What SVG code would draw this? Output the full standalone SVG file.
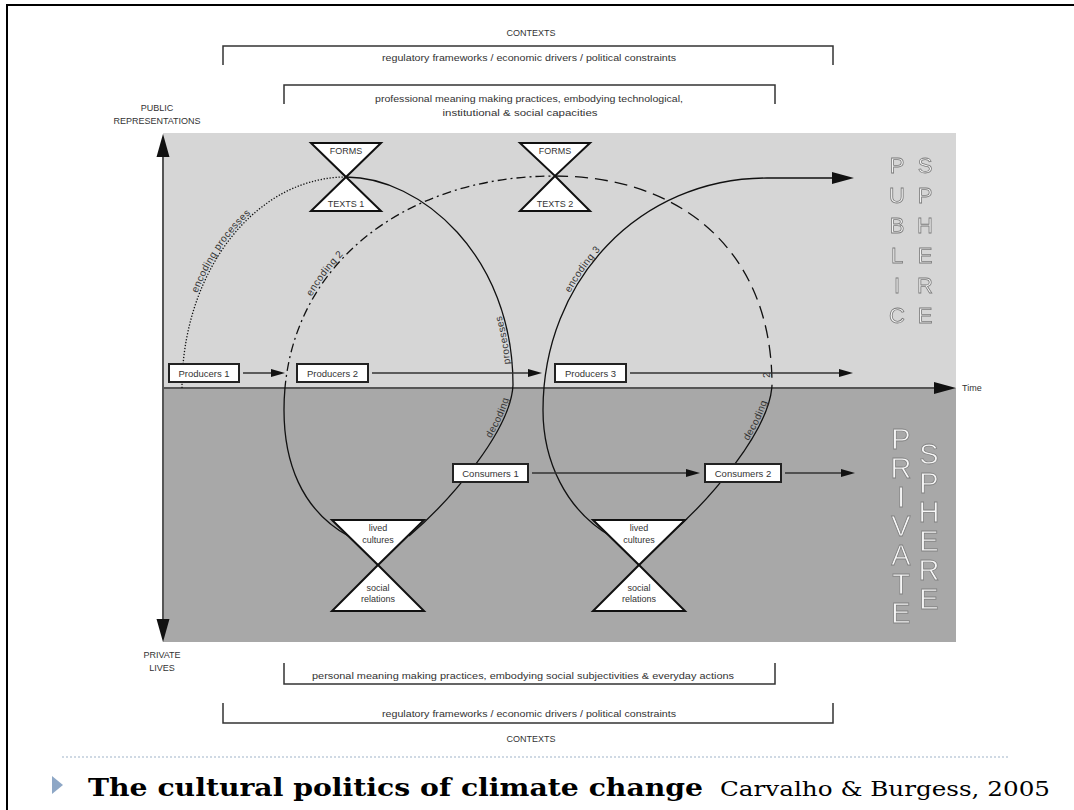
<svg xmlns="http://www.w3.org/2000/svg" width="1074" height="810" viewBox="0 0 1074 810">
<style>
.t{font-family:"Liberation Sans",Arial,sans-serif;font-size:9px;fill:#333}
.c{text-anchor:middle}
.lbl{font-family:"Liberation Sans",Arial,sans-serif;font-size:10px;fill:#333;letter-spacing:0.4px}
.box{fill:#fff;stroke:#222;stroke-width:2}
.hg{fill:#fff;stroke:#111;stroke-width:2}
.cur{fill:none;stroke:#111;stroke-width:1.3}
.arr{fill:none;stroke:#333;stroke-width:1.5}
.br{fill:none;stroke:#333;stroke-width:1.5}
.pub{font-family:"Liberation Sans",Arial,sans-serif;font-size:22px;fill:#f3f3f3;stroke:#7a7a7a;stroke-width:0.8;text-anchor:middle}
.pri{font-family:"Liberation Sans",Arial,sans-serif;font-size:29px;fill:#f7f7f7;stroke:#808080;stroke-width:0.8;text-anchor:middle}
</style>
<defs>
<marker id="ah" viewBox="0 0 14 8" markerWidth="14" markerHeight="8" refX="0" refY="4" orient="auto" markerUnits="userSpaceOnUse"><path d="M0,0L14,4L0,8z" fill="#111"/></marker>
<marker id="ahb" viewBox="0 0 22 12" markerWidth="22" markerHeight="12" refX="0" refY="6" orient="auto" markerUnits="userSpaceOnUse"><path d="M0,0L22,6L0,12z" fill="#111"/></marker>
<clipPath id="top"><rect x="0" y="0" width="1074" height="388"/></clipPath>
<clipPath id="bot"><rect x="0" y="388" width="1074" height="422"/></clipPath>
<filter id="gray" x="0" y="0" width="1" height="1"><feOffset dx="0" dy="0"/></filter>
<path id="rB" d="M409,536 C451,500 511,430 513,385 C513,255 420,177 346,177"/>
<path id="rD" d="M668,536 C710,500 770,430 772,385 C772,250 680,176 555,176"/>
</defs>

<!-- slide frame -->
<path d="M7,810 V5 H1074" fill="none" stroke="#000" stroke-width="2"/>

<!-- background spheres -->
<rect x="163" y="133" width="793" height="255" fill="#d6d6d6"/>
<rect x="163" y="388" width="793" height="254" fill="#a8a8a8"/>

<!-- brackets & context texts -->
<g id="contexts-top">
<text class="t c" x="531" y="36">CONTEXTS</text>
<path class="br" d="M223,65 V46 H833 V65"/>
<text class="t c" x="529" y="61" textLength="294" lengthAdjust="spacingAndGlyphs">regulatory frameworks / economic drivers / political constraints</text>
</g>
<g id="professional">
<path class="br" d="M284,104 V85 H775 V104" stroke="#111"/>
<text class="t c" x="529" y="102" textLength="308" lengthAdjust="spacingAndGlyphs">professional meaning making practices, embodying technological,</text>
<text class="t c" x="520" y="116" textLength="155" lengthAdjust="spacingAndGlyphs">institutional &amp; social capacities</text>
</g>
<g id="personal">
<path class="br" d="M284,663 V684 H775 V663" stroke="#111"/>
<text class="t c" x="523" y="679" textLength="422" lengthAdjust="spacingAndGlyphs">personal meaning making practices, embodying social subjectivities &amp; everyday actions</text>
</g>
<g id="contexts-bottom">
<path class="br" d="M223,703 V723 H833 V703"/>
<text class="t c" x="529" y="717" textLength="294" lengthAdjust="spacingAndGlyphs">regulatory frameworks / economic drivers / political constraints</text>
<text class="t c" x="531" y="742">CONTEXTS</text>
</g>

<!-- axes -->
<g id="axes">
<text class="t c" x="157" y="111">PUBLIC</text>
<text class="t c" x="157" y="124">REPRESENTATIONS</text>
<text class="t c" x="162" y="658">PRIVATE</text>
<text class="t c" x="162" y="671">LIVES</text>
<line x1="163" y1="156" x2="163" y2="620" stroke="#555" stroke-width="2"/>
<polygon points="156.5,157 169.5,157 163,134" fill="#111"/>
<polygon points="156.5,619 169.5,619 163,642" fill="#111"/>
<line x1="163" y1="388" x2="934" y2="388" stroke="#555" stroke-width="2" marker-end="url(#ahb)"/>
<text class="t" x="962" y="391">Time</text>
</g>

<!-- sphere titles -->
<g id="public-sphere" filter="url(#gray)">
<text class="pub" x="897" y="173">P</text><text class="pub" x="897" y="203">U</text><text class="pub" x="897" y="233">B</text>
<text class="pub" x="897" y="263">L</text><text class="pub" x="897" y="293">I</text><text class="pub" x="897" y="323">C</text>
<text class="pub" x="925" y="173">S</text><text class="pub" x="925" y="203">P</text><text class="pub" x="925" y="233">H</text>
<text class="pub" x="925" y="263">E</text><text class="pub" x="925" y="293">R</text><text class="pub" x="925" y="323">E</text>
</g>
<g id="private-sphere" filter="url(#gray)">
<text class="pri" x="901" y="449">P</text><text class="pri" x="901" y="478">R</text><text class="pri" x="901" y="507">I</text>
<text class="pri" x="901" y="536">V</text><text class="pri" x="901" y="565">A</text><text class="pri" x="901" y="594">T</text><text class="pri" x="901" y="623">E</text>
<text class="pri" x="929" y="464">S</text><text class="pri" x="929" y="493">P</text><text class="pri" x="929" y="522">H</text>
<text class="pri" x="929" y="551">E</text><text class="pri" x="929" y="580">R</text><text class="pri" x="929" y="609">E</text>
</g>

<!-- connectors -->
<g id="connectors">
<path id="cA" class="cur" d="M182,388 A164,211 0 0 1 346,177" stroke-width="2" stroke-dasharray="1.3 1.7"/>
<path class="cur" d="M346,177 C420,177 513,255 513,385 C511,430 451,500 409,536"/>
<path id="cC" class="cur" clip-path="url(#top)" stroke-dasharray="9 4 2 4" d="M350,537 C300,510 284,460 284,410 C284,270 400,176 555,176"/>
<path class="cur" clip-path="url(#bot)" d="M350,537 C300,510 284,460 284,410 C284,270 400,176 555,176"/>
<path class="cur" clip-path="url(#top)" stroke-dasharray="13 7" d="M555,176 C680,176 772,250 772,385 C770,430 710,500 668,536"/>
<path class="cur" clip-path="url(#bot)" d="M555,176 C680,176 772,250 772,385 C770,430 710,500 668,536"/>
<path id="cE" class="cur" d="M612,537 C565,510 543,460 543,410 C543,280 640,178 767,178 L832,178" marker-end="url(#ahb)"/>

<text class="lbl" dy="-2"><textPath href="#cA" startOffset="96">encoding processes</textPath></text>
<text class="lbl" dy="-2"><textPath href="#cC" startOffset="268">encoding 2</textPath></text>
<text class="lbl" dy="-2"><textPath href="#cE" startOffset="272">encoding 3</textPath></text>
<text class="lbl" dy="-2" style="letter-spacing:0.5px"><textPath href="#rB" startOffset="128">decoding</textPath></text>
<text class="lbl" dy="-2" style="letter-spacing:0.5px"><textPath href="#rB" startOffset="208">processes</textPath></text>
<text class="lbl" dy="-2" style="letter-spacing:0.5px"><textPath href="#rD" startOffset="125">decoding</textPath></text>
<text class="lbl" dy="-2"><textPath href="#rD" startOffset="194">2</textPath></text>

<line class="arr" x1="243" y1="373" x2="271" y2="373" marker-end="url(#ah)"/>
<line class="arr" x1="372" y1="373" x2="528" y2="373" marker-end="url(#ah)"/>
<line class="arr" x1="630" y1="373" x2="839" y2="373" marker-end="url(#ah)"/>
<line class="arr" x1="532" y1="473" x2="686" y2="473" marker-end="url(#ah)"/>
<line class="arr" x1="785" y1="473" x2="841" y2="473" marker-end="url(#ah)"/>
</g>

<!-- nodes -->
<g id="producers1"><rect class="box" x="169" y="364" width="70" height="18"/><text class="t c" x="204" y="376.5" style="font-size:9.5px">Producers 1</text></g>
<g id="producers2"><rect class="box" x="297" y="364" width="71" height="18"/><text class="t c" x="332.5" y="376.5" style="font-size:9.5px">Producers 2</text></g>
<g id="producers3"><rect class="box" x="555" y="364" width="71" height="18"/><text class="t c" x="590.5" y="376.5" style="font-size:9.5px">Producers 3</text></g>
<g id="consumers1"><rect class="box" x="453" y="464" width="75" height="18"/><text class="t c" x="490.5" y="476.5" style="font-size:9.5px">Consumers 1</text></g>
<g id="consumers2"><rect class="box" x="705" y="464" width="76" height="18"/><text class="t c" x="743" y="476.5" style="font-size:9.5px">Consumers 2</text></g>

<g id="forms-texts1">
<polygon class="hg" points="311,143 381,143 346,177"/>
<polygon class="hg" points="346,177 381,211 311,211"/>
<text class="t c" x="346" y="154">FORMS</text>
<text class="t c" x="346" y="207">TEXTS 1</text>
</g>
<g id="forms-texts2">
<polygon class="hg" points="520,143 590,143 555,176"/>
<polygon class="hg" points="555,176 590,211 520,211"/>
<text class="t c" x="555" y="154">FORMS</text>
<text class="t c" x="555" y="207">TEXTS 2</text>
</g>
<g id="lived1">
<polygon class="hg" points="332,520 424,520 378,565"/>
<polygon class="hg" points="378,565 424,611 332,611"/>
<text class="t c" x="378" y="531">lived</text>
<text class="t c" x="378" y="543">cultures</text>
<text class="t c" x="378" y="591">social</text>
<text class="t c" x="378" y="602">relations</text>
</g>
<g id="lived2">
<polygon class="hg" points="593,520 685,520 639,565"/>
<polygon class="hg" points="639,565 685,611 593,611"/>
<text class="t c" x="639" y="531">lived</text>
<text class="t c" x="639" y="543">cultures</text>
<text class="t c" x="639" y="591">social</text>
<text class="t c" x="639" y="602">relations</text>
</g>

<!-- footer -->
<g id="footer">
<line x1="62" y1="757" x2="1010" y2="757" stroke="#9fb3c8" stroke-width="1" stroke-dasharray="2 2"/>
<polygon points="52,776 52,794 63,785" fill="#8ea7c6"/>
<text x="88" y="796" style="font-family:'DejaVu Serif','Liberation Serif',serif;font-size:24px;font-weight:bold;fill:#000" textLength="615" lengthAdjust="spacingAndGlyphs">The cultural politics of climate change</text>
<text x="720" y="796" style="font-family:'DejaVu Serif','Liberation Serif',serif;font-size:21px;fill:#000" textLength="330" lengthAdjust="spacingAndGlyphs">Carvalho &amp; Burgess, 2005</text>
</g>
</svg>
